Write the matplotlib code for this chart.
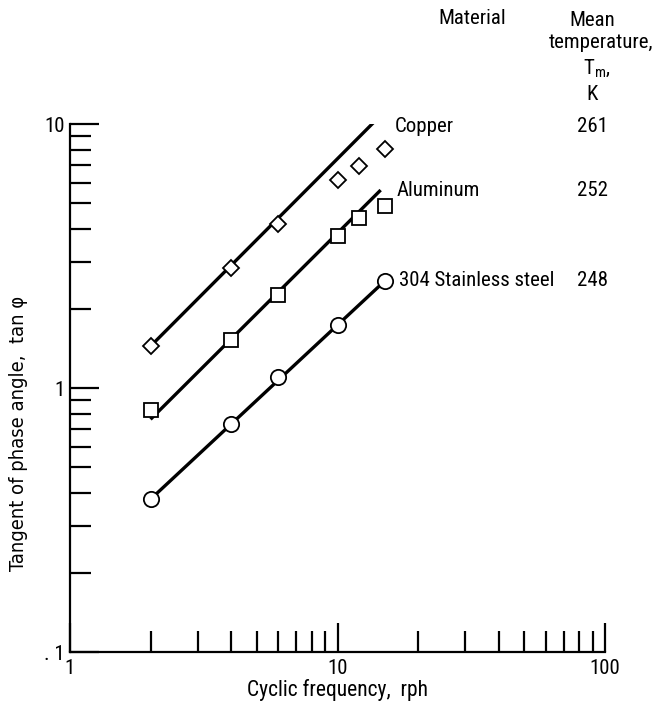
import matplotlib
matplotlib.use("Agg")
import matplotlib.pyplot as plt
from matplotlib.ticker import FixedLocator, FixedFormatter, NullFormatter
from matplotlib import font_manager
from matplotlib.font_manager import FontProperties

# pick a condensed sans if one exists
FONT = "DejaVu Sans"
STRETCH = "normal"
names = {f.name for f in font_manager.fontManager.ttflist}
for cand in ["Liberation Sans Narrow", "DejaVu Sans Condensed", "Roboto Condensed",
             "Open Sans Condensed", "Noto Sans Condensed"]:
    if cand in names:
        FONT = cand
        break
else:
    try:
        p = font_manager.findfont(FontProperties(family="DejaVu Sans", stretch="condensed"),
                                  fallback_to_default=False)
        if "Condensed" in p:
            STRETCH = "condensed"
    except Exception:
        pass
COND = STRETCH == "condensed" or FONT != "DejaVu Sans"

plt.rcParams['font.family'] = [FONT, 'DejaVu Sans']
plt.rcParams['font.stretch'] = STRETCH
plt.rcParams['mathtext.default'] = 'regular'

# ---- data ----
freq = [2, 4, 6, 10, 12, 15]
copper_tan = [1.44, 2.84, 4.19, 6.14, 6.95, 8.04]
aluminum_tan = [0.825, 1.52, 2.25, 3.75, 4.39, 4.89]
steel_freq = [2, 4, 6, 10, 15]
steel_tan = [0.379, 0.73, 1.098, 1.738, 2.54]

copper_fit_x = [2.0, 13.6]
copper_fit_y = [1.44, 10.1]
aluminum_fit_x = [2.0, 14.5]
aluminum_fit_y = [0.761, 5.62]
steel_fit_x = [2.0, 15.0]
steel_fit_y = [0.379, 2.54]

materials = ["Copper", "Aluminum", "304 Stainless steel"]
temps = ["261", "252", "248"]

x_major = [1, 10, 100]
x_major_labels = ["1", "10", "100"]
y_major = [0.1, 1, 10]
y_major_labels = [". 1", "1", "10"]

# ---- figure ----
W, H = 657, 706
fig = plt.figure(figsize=(W / 100, H / 100), dpi=100)
ax = fig.add_axes([70 / W, 1 - 652 / H, (605 - 70) / W, (652 - 124) / H])
ax.set_xscale('log')
ax.set_yscale('log')
ax.set_xlim(1, 100)
ax.set_ylim(0.1, 10)

lw = 2.4
ax.plot(copper_fit_x, copper_fit_y, color='black', lw=lw, solid_capstyle='butt', zorder=2)
ax.plot(aluminum_fit_x, aluminum_fit_y, color='black', lw=lw, solid_capstyle='butt', zorder=2)
ax.plot(steel_fit_x, steel_fit_y, color='black', lw=lw, solid_capstyle='butt', zorder=2)

mk = dict(linestyle='none', markerfacecolor='white', markeredgecolor='black',
          markeredgewidth=1.3, zorder=3)
ax.plot(freq, copper_tan, marker='D', markersize=8.5, **mk)
ax.plot(freq, aluminum_tan, marker='s', markersize=10.5, **mk)
ax.plot(steel_freq, steel_tan, marker='o', markersize=11, **mk)

for s in ['top', 'right']:
    ax.spines[s].set_visible(False)
for s in ['left', 'bottom']:
    ax.spines[s].set_linewidth(1.6)

ax.xaxis.set_major_locator(FixedLocator(x_major))
ax.xaxis.set_major_formatter(FixedFormatter(x_major_labels))
ax.yaxis.set_major_locator(FixedLocator(y_major))
ax.yaxis.set_major_formatter(FixedFormatter(y_major_labels))
ax.xaxis.set_minor_locator(FixedLocator([2, 3, 4, 5, 6, 7, 8, 9, 20, 30, 40, 50, 60, 70, 80, 90]))
ax.yaxis.set_minor_locator(FixedLocator([0.2, 0.3, 0.4, 0.5, 0.6, 0.7, 0.8, 0.9,
                                         2, 3, 4, 5, 6, 7, 8, 9]))
ax.xaxis.set_minor_formatter(NullFormatter())
ax.yaxis.set_minor_formatter(NullFormatter())

tick_fs = 15 if COND else 12.5
ax.tick_params(which='major', direction='in', length=21, width=1.6, labelsize=tick_fs)
ax.tick_params(which='minor', direction='in', length=15, width=1.6)
ax.tick_params(axis='x', which='major', pad=5)
ax.tick_params(axis='y', which='major', pad=4)

xl_fs = 15.5 if COND else 13
ax.set_xlabel("Cyclic frequency,  rph", fontsize=xl_fs, labelpad=1)
ax.set_ylabel("Tangent of phase angle,  tan \u03c6", fontsize=14.5,
              family=['DejaVu Sans'], stretch='condensed' if COND else 'normal')
ax.yaxis.set_label_coords((28 - 70) / (605 - 70), (652 - 433) / (652 - 124))

def ftext(x, y, s, **kw):
    fig.text(x / W, 1 - y / H, s, va='center', **kw)

fs = 15 if COND else 12.5
ftext(472, 18, "Material", ha='center', fontsize=fs)
ftext(592, 20, "Mean", ha='center', fontsize=fs)
ftext(601, 43, "temperature,", ha='center', fontsize=fs)
ftext(597, 68, "T$_{m}$,", ha='center', fontsize=fs)
ftext(592, 95, "K", ha='center', fontsize=fs)

ftext(395, 127, materials[0], ha='left', fontsize=fs)
ftext(397, 191, materials[1], ha='left', fontsize=fs)
ftext(399, 280, materials[2], ha='left', fontsize=fs)
ftext(592, 127, temps[0], ha='center', fontsize=fs)
ftext(593, 190, temps[1], ha='center', fontsize=fs)
ftext(593, 280, temps[2], ha='center', fontsize=fs)

fig.savefig("out.png", dpi=100)
